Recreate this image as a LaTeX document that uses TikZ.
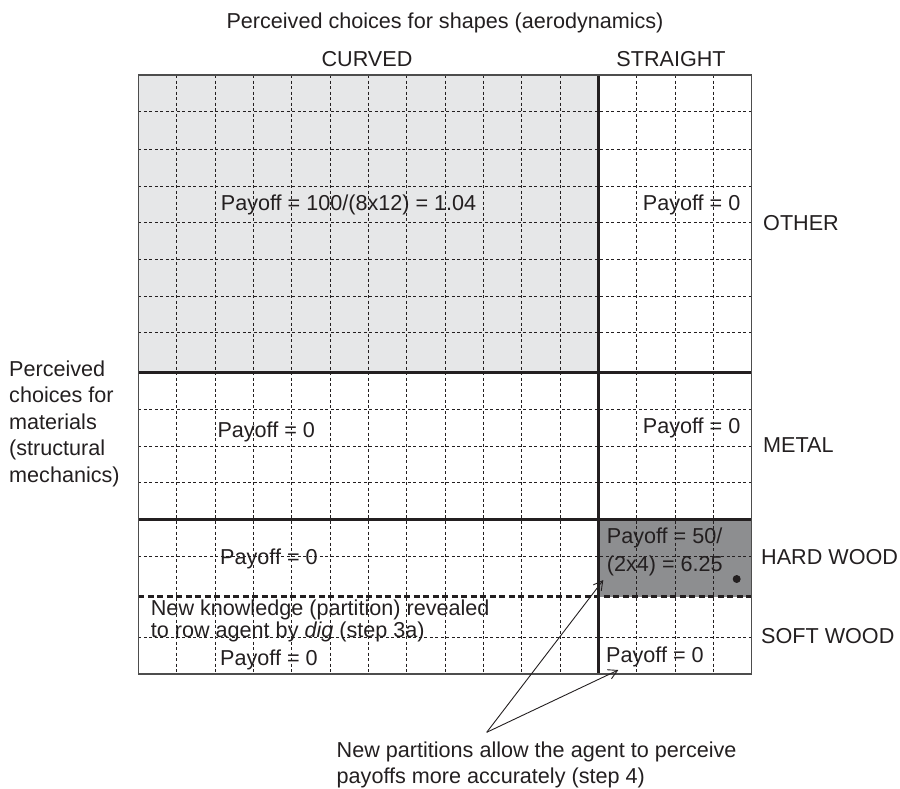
\documentclass[tikz,border=0pt]{standalone}
\usepackage{fontspec}
\setmainfont{Liberation Sans}
\usetikzlibrary{arrows.meta}
\definecolor{ink}{HTML}{231F20}
\definecolor{lightfill}{HTML}{E6E7E8}
\definecolor{darkfill}{HTML}{8D8E90}
\definecolor{bordergray}{HTML}{4D4D4D}
\tikzset{
  lbl/.style={inner sep=0pt, anchor=base west, text=ink, font=\fontsize{21.6}{26}\selectfont},
  gridline/.style={line width=0.9pt, draw=ink, dash pattern=on 3pt off 2.5pt},
  thickline/.style={line width=3.4pt, draw=ink},
  thickdash/.style={line width=3.4pt, draw=ink, dash pattern=on 6pt off 3.5pt},
  pointer/.style={line width=0.9pt, draw=ink, -{Straight Barb[length=9pt,width=10pt]}},
}
\begin{document}
\begin{tikzpicture}[x=1pt,y=-1pt]
\useasboundingbox (0,0) rectangle (900,788);
% fills
\fill[lightfill] (138.3,75) rectangle (598.4,372.7);
\fill[darkfill] (598.4,519.3) rectangle (751.7,596.7);
% dashed grid
\foreach \x in {176.6,215,253.3,291.7,330,368.3,406.7,445,483.4,521.7,560,636.7,675,713.4}
  \draw[gridline] (\x,75) -- (\x,674);
\foreach \y in {111.7,149,186,222.7,259.3,296,332.7,409.3,446,482.7,556,637.3}
  \draw[gridline] (138.3,\y) -- (751.7,\y);
% partitions
\draw[thickline] (138.3,372.7) -- (751.7,372.7);
\draw[thickline] (138.3,519.3) -- (751.7,519.3);
\draw[thickdash] (138.3,596.7) -- (751.7,596.7);
\draw[thickline] (598.4,75) -- (598.4,674);
\draw[bordergray, line width=1.2pt] (138.3,75) rectangle (751.7,674);
% dot
\node[circle, fill=ink, inner sep=0pt, minimum size=8pt] (dot) at (736.7,579) {};
% headings
\node[lbl, anchor=base] (title) at (445,28) {Perceived choices for shapes (aerodynamics)};
\node[lbl, anchor=base] (curved) at (367,66) {CURVED};
\node[lbl, anchor=base] (straight) at (671,66) {STRAIGHT};
% left labels
\node[lbl] (l1) at (9,376) {Perceived};
\node[lbl] (l2) at (9,402.5) {choices for};
\node[lbl] (l3) at (9,429) {materials};
\node[lbl] (l4) at (9,455.5) {(structural};
\node[lbl] (l5) at (9,482) {mechanics)};
% row labels
\node[lbl] (other) at (763,230.7) {OTHER};
\node[lbl] (metal) at (763,452) {METAL};
\node[lbl] (hard) at (761,564) {HARD WOOD};
\node[lbl] (soft) at (761,643) {SOFT WOOD};
% payoffs
\node[lbl] (p1) at (220.7,210) {Payoff = 100/(8x12) = 1.04};
\node[lbl] (p2) at (642.7,210) {Payoff = 0};
\node[lbl] (p3) at (217.3,437) {Payoff = 0};
\node[lbl] (p4) at (642.7,433) {Payoff = 0};
\node[lbl] (p5) at (220,564) {Payoff = 0};
\node[lbl] (p6a) at (606.7,543) {Payoff = 50/};
\node[lbl] (p6b) at (606.7,571) {(2x4) = 6.25};
\node[lbl] (p7) at (220,665) {Payoff = 0};
\node[lbl] (p8) at (606,662) {Payoff = 0};
% new knowledge
\node[lbl] (nk1) at (150.7,615) {New knowledge (partition) revealed};
\node[lbl] (nk2) at (150.7,637) {to row agent by \textit{dig} (step 3a)};
% bottom note
\node[lbl] (np1) at (336.5,757.7) {New partitions allow the agent to perceive};
\node[lbl] (np2) at (336.5,783) {payoffs more accurately (step 4)};
% arrows
\coordinate (apex) at (486.7,732.3);
\coordinate (tipA) at (603.3,580);
\coordinate (tipB) at (618.3,670);
\draw[pointer] (apex) -- (tipA);
\draw[pointer] (apex) -- (tipB);
\end{tikzpicture}
\end{document}
